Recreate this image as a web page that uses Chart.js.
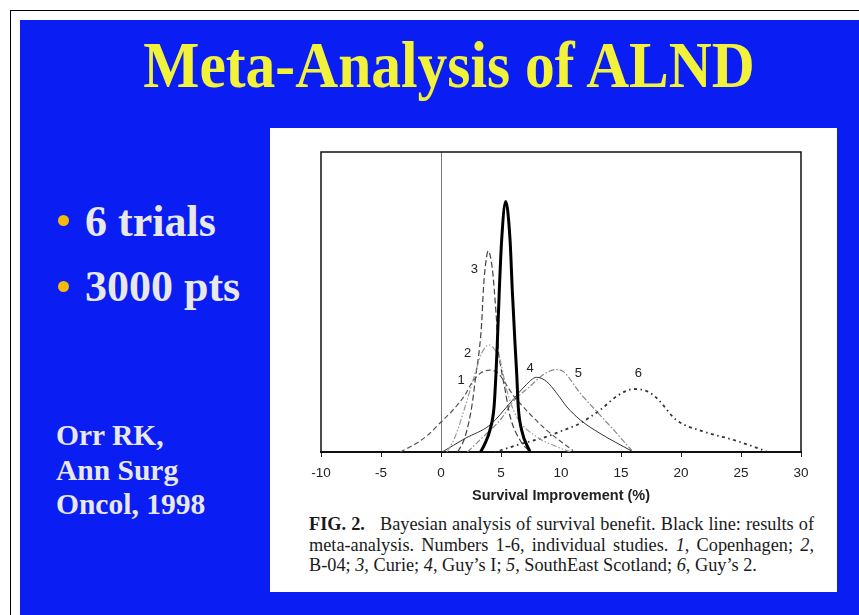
<!DOCTYPE html>
<html>
<head>
<meta charset="utf-8">
<script src="https://cdn.jsdelivr.net/npm/chart.js@4.4.1/dist/chart.umd.min.js"></script>
<style>
  body { margin: 0; width: 859px; height: 615px; position: relative; overflow: hidden; background: #fff; font-family: "Liberation Serif", "Times New Roman", serif; }
  #frame { position: absolute; left: 10px; top: 10px; right: 0; bottom: 0; border-left: 1.5px solid #000; border-top: 1.5px solid #000; }
  #slide { position: absolute; left: 20px; top: 20px; right: 0; bottom: 0; background: #0a1ef4; }
  #title { position: absolute; left: 40px; width: 818px; top: 38px; text-align: center; font: bold 59.5px/1 "Liberation Serif", serif; color: #f2f23a; transform: scaleY(1.1); transform-origin: 50% 84%; white-space: nowrap; }
  .bullet { position: absolute; left: 85px; font: bold 44px/1 "Liberation Serif", serif; color: #e8e8e8; white-space: nowrap; }
  .dot { position: absolute; left: 58px; width: 11px; height: 11px; border-radius: 50%; background: #f7b90a; }
  #ref { position: absolute; left: 56px; top: 418px; font: bold 29.5px/34.5px "Liberation Serif", serif; color: #e8e8e8; white-space: nowrap; }
  #panel { position: absolute; left: 270px; top: 128px; width: 567px; height: 464px; background: #fff; }
  #chartBox { position: absolute; left: 300px; top: 140px; width: 520px; height: 370px; }
  #caption { position: absolute; left: 309px; top: 514px; width: 505px; font: 18.3px/20.5px "Liberation Serif", serif; color: #1a1a1a; }
  #caption .j { text-align: justify; text-align-last: justify; }
</style>
</head>
<body>
<div id="frame"></div>
<div id="slide"></div>
<div id="title">Meta-Analysis of ALND</div>
<div class="dot" style="top:215px"></div>
<div class="bullet" style="top:200px">6 trials</div>
<div class="dot" style="top:281px"></div>
<div class="bullet" style="top:265px">3000 pts</div>
<div id="ref">Orr RK,<br>Ann Surg<br>Oncol, 1998</div>
<div id="panel"></div>
<div id="chartBox"><canvas id="myChart" width="520" height="370"></canvas></div>
<div id="caption">
  <div class="j"><b>FIG. 2.</b>&nbsp;&nbsp; Bayesian analysis of survival benefit. Black line: results of</div>
  <div class="j">meta-analysis. Numbers 1-6, individual studies. <i>1</i>, Copenhagen; <i>2</i>,</div>
  <div>B-04; <i>3</i>, Curie; <i>4</i>, Guy’s I; <i>5</i>, SouthEast Scotland; <i>6</i>, Guy’s 2.</div>
</div>
<script>
// survival improvement (%) vs. relative density
let xMeta = [3.3, 3.67, 4.08, 4.42, 4.58, 4.69, 4.86, 5.06, 5.39, 5.75, 5.94, 6.17, 6.31, 6.44, 6.72, 7.42];
let yMeta = [0, 2.9, 7.3, 15, 26, 36, 54, 71, 83.5, 71, 54, 36, 26, 15, 7.3, 0];

let x1 = [-3.4, -2, -1, 0, 1, 2, 2.56, 3.3, 4.08, 4.7, 5.19, 6.0, 6.86, 8.8, 11.0];
let y1 = [0, 3, 6, 10, 14, 19, 23, 26.3, 27.3, 26.5, 24, 19, 15, 7.3, 0.5];

let x2 = [0.5, 1.17, 2.0, 2.83, 3.4, 4.0, 4.5, 4.92, 5.47, 6.3, 8.0, 9.5, 10.8];
let y2 = [0, 5, 15, 26, 33, 35.7, 34, 30.7, 20.7, 11.8, 5, 2, 0];

let x3 = [1.4, 2.0, 2.56, 2.92, 3.22, 3.39, 3.53, 3.67, 3.94, 4.28, 4.44, 4.64, 4.75, 5.0, 5.33, 5.75, 6.58, 7.4];
let y3 = [0, 5, 15, 26, 35, 43, 54, 61, 67, 61, 54, 43, 35, 28, 21, 12, 4, 0];

let x4 = [0.1, 2, 4.08, 5.75, 7.0, 7.97, 8.8, 9.64, 10.5, 11.6, 13.25, 15.9];
let y4 = [0, 4.5, 9, 16.3, 22, 24.9, 23.5, 19.6, 15, 10.7, 6.2, 0.3];

let x5 = [2.2, 3.5, 5.0, 6.0, 7.4, 8.6, 9.6, 10.2, 11.6, 13.0, 14.4, 15.9];
let y5 = [0, 5, 11, 16.8, 21.8, 26, 27.5, 26.8, 19.6, 13.4, 7.3, 0.5];

let x6 = [4.5, 6.5, 8.8, 9.9, 11.6, 13.25, 14.8, 16.1, 17.2, 18.0, 19.6, 21.9, 24.4, 27.1];
let y6 = [0, 2.5, 5.1, 6.8, 9.6, 14, 19, 21, 20.2, 17.9, 10.7, 6.8, 4, 0.3];

let curveLabels = ["1", "2", "3", "4", "5", "6"];
let labelX = [1.67, 2.22, 2.78, 7.42, 11.44, 16.44];
let labelY = [24, 32.7, 60.7, 27.9, 26.2, 26.2];

let xTicksMin = -10;
let xTicksMax = 30;
let xStep = 5;

function pts(xs, ys) {
  return xs.map((x, i) => ({ x: x, y: ys[i] }));
}

function curve(label, xs, ys, color, width, dash) {
  return {
    label: label,
    data: pts(xs, ys),
    borderColor: color,
    borderWidth: width,
    borderDash: dash,
    pointRadius: 0,
    fill: false,
    cubicInterpolationMode: "monotone",
  };
}

// numbers next to the individual study curves
let labelPlugin = {
  id: "curveLabels",
  afterDatasetsDraw(chart) {
    let ctx = chart.ctx;
    let xs = chart.scales.x;
    let ys = chart.scales.y;
    ctx.save();
    ctx.font = '13px "Liberation Sans", Arial, sans-serif';
    ctx.fillStyle = "#222";
    ctx.textAlign = "center";
    ctx.textBaseline = "middle";
    curveLabels.forEach((t, i) => {
      ctx.fillText(t, xs.getPixelForValue(labelX[i]), ys.getPixelForValue(labelY[i]));
    });
    ctx.restore();
  },
};

// the box round the plot (left, top, right)
let boxPlugin = {
  id: "plotBox",
  afterDraw(chart) {
    let a = chart.chartArea;
    let ctx = chart.ctx;
    ctx.save();
    ctx.strokeStyle = "#111";
    ctx.lineWidth = 1.5;
    ctx.beginPath();
    ctx.moveTo(a.left, a.bottom);
    ctx.lineTo(a.left, a.top);
    ctx.lineTo(a.right, a.top);
    ctx.lineTo(a.right, a.bottom);
    ctx.stroke();
    ctx.restore();
  },
};

let myChart = document.getElementById("myChart").getContext("2d");

let densityChart = new Chart(myChart, {
  type: "line",
  data: {
    datasets: [
      curve("Meta-analysis", xMeta, yMeta, "#000", 3, []),
      curve("1 Copenhagen", x1, y1, "#555", 1.2, [5, 3]),
      curve("2 B-04", x2, y2, "#999", 1.2, [6, 2, 1.5, 2, 1.5, 2]),
      curve("3 Curie", x3, y3, "#444", 1.2, [6, 3]),
      curve("4 Guy's I", x4, y4, "#333", 1, []),
      curve("5 SouthEast Scotland", x5, y5, "#888", 1.2, [6, 2, 1.5, 2]),
      curve("6 Guy's 2", x6, y6, "#333", 1.8, [1.5, 3.5, 3, 3.5]),
    ],
  },
  options: {
    responsive: false,
    animation: false,
    layout: {
      padding: { left: 21, right: 19, top: 12, bottom: 5 },
    },
    plugins: {
      legend: { display: false },
      tooltip: { enabled: false },
    },
    scales: {
      x: {
        type: "linear",
        min: xTicksMin,
        max: xTicksMax,
        ticks: {
          stepSize: xStep,
          color: "#222",
          padding: 8,
          font: { family: '"Liberation Sans", Arial, sans-serif', size: 13.5 },
        },
        grid: {
          color: (c) => (c.tick && c.tick.value === 0 ? "#777" : "transparent"),
          tickColor: "#222",
          tickLength: 5,
        },
        border: { color: "#111", width: 2 },
        title: {
          display: true,
          text: "Survival Improvement (%)",
          color: "#222",
          padding: { top: 0, bottom: 0 },
          font: { family: '"Liberation Sans", Arial, sans-serif', size: 14.5, weight: "bold" },
        },
        afterFit: (scale) => {
          scale.height = 53;
        },
      },
      y: {
        display: false,
        min: 0,
        max: 100,
      },
    },
  },
  plugins: [labelPlugin, boxPlugin],
});
</script>
</body>
</html>
